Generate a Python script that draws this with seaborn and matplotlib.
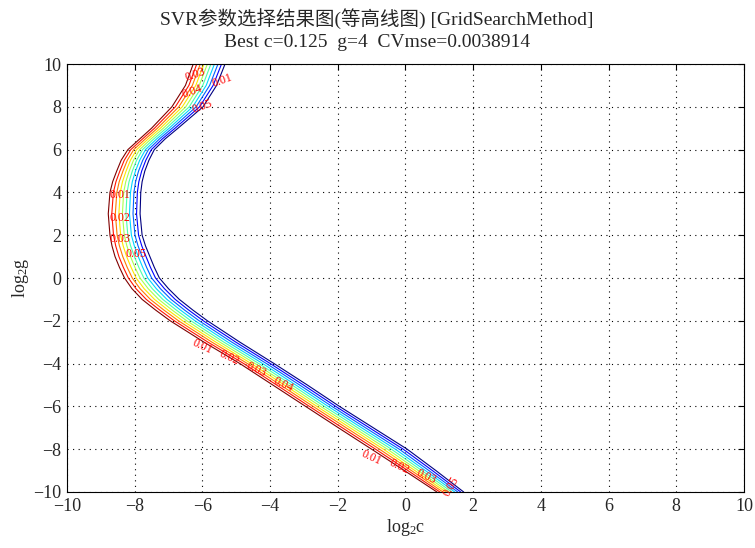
import numpy as np
import pandas as pd
import matplotlib
matplotlib.use("Agg")
import matplotlib.pyplot as plt
import seaborn as sns

# ---- data ----
log2g = [-10, -9, -8, -7, -6, -5, -4, -3, -2, -1.5, -1, -0.5, 0, 0.5, 1, 1.5, 2, 3, 4,
         4.5, 5, 5.5, 6, 6.5, 7, 8, 9, 10]
# log2c of the outermost (dark red) contour
left_c = [0.93, -0.03, -1.0, -1.98, -2.95, -3.92, -4.89, -5.95, -6.95, -7.38, -7.78,
          -8.08, -8.3, -8.45, -8.58, -8.67, -8.73, -8.78, -8.73,
          -8.65, -8.53, -8.4, -8.2, -7.85, -7.5, -6.9, -6.5, -6.27]
# log2c of the innermost (dark blue) contour
right_c = [1.72, 0.9, 0.05, -0.95, -1.95, -2.9, -3.88, -4.89, -5.85, -6.28, -6.68,
           -7.0, -7.27, -7.42, -7.55, -7.68, -7.78, -7.84, -7.82,
           -7.78, -7.7, -7.58, -7.42, -7.1, -6.72, -5.98, -5.58, -5.33]
n_levels = 10
levels = list(range(n_levels))

# contour labels (red, mostly illegible in the reference)
lab_c = [-6.2, -5.4, -6.3, -6.0,
         -8.45, -8.45, -8.45, -7.95,
         -6.0, -5.2, -4.4, -3.6,
         -1.0, -0.2, 0.6, 1.35]
lab_g = [9.5, 9.2, 8.7, 8.0,
         3.9, 2.8, 1.8, 1.1,
         -3.2, -3.7, -4.3, -5.0,
         -8.4, -8.8, -9.3, -9.75]
lab_rot = [20, 20, 20, 20,
           0, 0, 0, 0,
           -25, -25, -25, -25,
           -25, -25, -25, 60]
lab_txt = ["0.03", "0.01", "0.04", "0.05",
           "0.01", "0.02", "0.03", "0.05",
           "0.01", "0.02", "0.03", "0.04",
           "0.01", "0.02", "0.03", "0.05"]

rows = []
for k in levels:
    frac = k / (n_levels - 1)
    for g, lc, rc in zip(log2g, left_c, right_c):
        rows.append({"c": lc + (rc - lc) * frac, "g": g, "level": k})
df = pd.DataFrame(rows)

sns.set_style("white")
plt.rcParams["font.family"] = ["Liberation Serif", "Noto Sans CJK SC"]
plt.rcParams["mathtext.fontset"] = "custom"
plt.rcParams["mathtext.rm"] = "Liberation Serif"
plt.rcParams["mathtext.it"] = "Liberation Serif"
plt.rcParams["axes.unicode_minus"] = True

fig = plt.figure(figsize=(7.55, 5.48), dpi=100)
ax = fig.add_axes([0.0887, 0.1022, 0.8967, 0.781])

jet = matplotlib.colormaps["jet"]
palette = {k: jet(1 - k / (n_levels - 1)) for k in levels}
sns.lineplot(data=df, x="c", y="g", hue="level", palette=palette, orient="y",
             estimator=None, legend=False, linewidth=0.8, ax=ax)

for c, g, t, r in zip(lab_c, lab_g, lab_txt, lab_rot):
    ax.text(c, g, t, color="red", fontsize=8.5, ha="center", va="center", rotation=r)

ax.set_xlim(-10, 10)
ax.set_ylim(-10, 10)
ax.set_xticks(range(-10, 11, 2))
ax.set_yticks(range(-10, 11, 2))
ax.grid(True, color="black", linestyle=(0, (1, 4)), linewidth=0.8)
ax.tick_params(direction="in", top=True, right=True, labelsize=13, length=4,
               color="black", pad=4)
for s in ax.spines.values():
    s.set_color("black")
    s.set_linewidth(0.8)
ax.set_xlabel("log$_2$c", fontsize=13, labelpad=2)
ax.set_ylabel("log$_2$g", fontsize=13, labelpad=2)
ax.set_title("SVR参数选择结果图(等高线图) [GridSearchMethod]\nBest c=0.125  g=4  CVmse=0.0038914",
             fontsize=14, pad=12, linespacing=1.4, x=0.458)

fig.savefig("out.png", dpi=100)
